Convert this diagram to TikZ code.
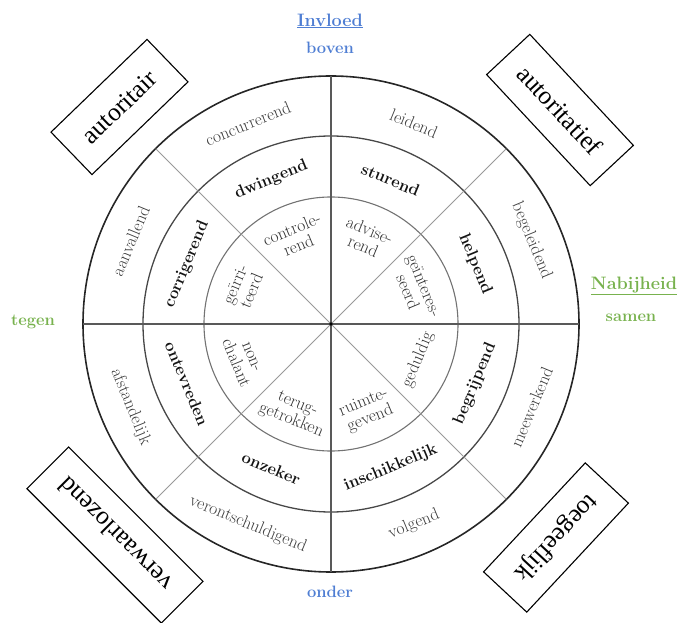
\documentclass[tikz,border=0pt]{standalone}
\usepackage{fontspec}
\newfontfamily\boxfont{Liberation Serif}
\definecolor{axblue}{HTML}{4F7ED3}
\definecolor{axgreen}{HTML}{78B24E}
\begin{document}
\begin{tikzpicture}[x=1pt,y=1pt,
  outerlbl/.style={font=\fontsize{17.5}{19}\selectfont, text=black!76, inner sep=0pt},
  midlbl/.style={font=\fontsize{16.5}{18}\selectfont\bfseries, text=black!92, inner sep=0pt},
  innerlbl/.style={font=\fontsize{17.5}{17.5}\selectfont, text=black!80, align=center, inner sep=0pt},
  stylebox/.style={draw=black, line width=1.1pt, font=\boxfont\fontsize{25.5}{28}\selectfont, minimum height=59pt, inner xsep=20pt, inner ysep=0pt},
  axislbl/.style={font=\fontsize{16.5}{18}\selectfont\bfseries, inner sep=0pt},
  headlbl/.style={font=\fontsize{18}{20}\selectfont\bfseries, inner sep=0pt},
  ring1/.style={draw=black!85, line width=1.6pt},
  ring2/.style={draw=black!72, line width=1.3pt},
  ring3/.style={draw=black!55, line width=1.1pt},
  axisline/.style={draw=black!65, line width=1.1pt},
  diagline/.style={draw=black!40, line width=1pt}
]
\useasboundingbox (-331,-299) rectangle (351,324);

% circles
\draw[ring1] (0,0) circle (248);
\draw[ring2] (0,0) circle (188);
\draw[ring3] (0,0) circle (127);

% dividing lines
\coordinate (c) at (0,0);
\foreach \a/\n in {0/e,90/n,180/w,270/s}{\coordinate (\n) at (\a:248);}
\foreach \a/\n in {45/ne,135/nw,225/sw,315/se}{\coordinate (\n) at (\a:248);}
\draw[axisline] (w) -- (e);
\draw[axisline] (s) -- (n);
\draw[diagline] (c) -- (ne);
\draw[diagline] (c) -- (nw);
\draw[diagline] (c) -- (sw);
\draw[diagline] (c) -- (se);
\fill[black] (c) circle (1.8);

% outer ring texts
\foreach \a/\t/\n in {112.5/concurrerend/o1, 67.5/leidend/o2, 22.5/begeleidend/o3, -22.5/meewerkend/o4, -67.5/volgend/o5, -112.5/verontschuldigend/o6, -157.5/afstandelijk/o7, 157.5/aanvallend/o8}{
  \pgfmathsetmacro\r{\a>0 ? \a-90 : \a+90}
  \node[outerlbl, rotate=\r] (\n) at (\a:217) {\t};
}
% middle ring texts
\foreach \a/\t/\n in {112.5/dwingend/m1, 67.5/sturend/m2, 22.5/helpend/m3, -22.5/begrijpend/m4, -67.5/inschikkelijk/m5, -112.5/onzeker/m6, -157.5/ontevreden/m7, 157.5/corrigerend/m8}{
  \pgfmathsetmacro\r{\a>0 ? \a-90 : \a+90}
  \node[midlbl, rotate=\r] (\n) at (\a:156) {\t};
}
% inner ring texts
\node[innerlbl, rotate=22.5] (i1) at (112.5:94) {controle-\\rend};
\node[innerlbl, rotate=-22.5] (i2) at (67.5:93) {advise-\\rend};
\node[innerlbl, rotate=-67.5] (i3) at (22.5:92) {geïnteres-\\seerd};
\node[innerlbl, rotate=67.5] (i4) at (-22.5:94) {geduldig};
\node[innerlbl, rotate=22.5] (i5) at (-67.5:94) {ruimte-\\gevend};
\node[innerlbl, rotate=-22.5] (i6) at (-112.5:96) {terug-\\getrokken};
\node[innerlbl, rotate=-67.5] (i7) at (-157.5:95) {non-\\chalant};
\node[innerlbl, rotate=67.5] (i8) at (157.5:95) {geïrri-\\teerd};

% axis labels
\node[headlbl, text=axblue] (invloed) at (-1,303) {\underline{Invloed}};
\node[axislbl, text=axblue] (boven) at (-1,276) {boven};
\node[axislbl, text=axblue] (onder) at (-1,-268) {onder};
\node[headlbl, text=axgreen] (nabij) at (303,38) {\underline{Nabijheid}};
\node[axislbl, text=axgreen] (samen) at (300,6) {samen};
\node[axislbl, text=axgreen] (tegen) at (-298,2) {tegen};

% corner boxes
\node[stylebox, rotate=44] (autoritair) at (-211.5,217) {autoritair};
\node[stylebox, rotate=-47] (autoritatief) at (229,214) {autoritatief};
\node[stylebox, rotate=135] (verwaarlozend) at (-216,-211) {verwaarlozend};
\node[stylebox, rotate=-133] (toegeeflijk) at (225,-213.5) {toegeeflijk};
\end{tikzpicture}
\end{document}
